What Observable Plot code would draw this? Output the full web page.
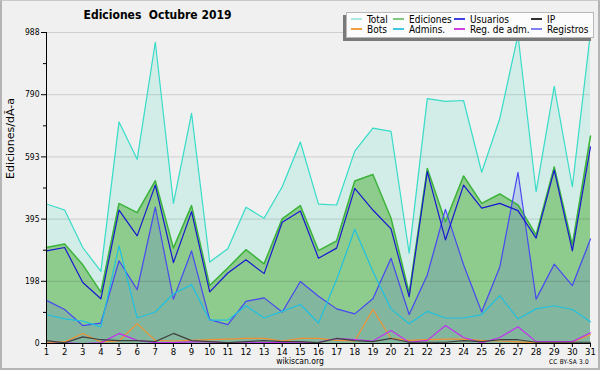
<!DOCTYPE html>
<html><head><meta charset="utf-8">
<script src="https://cdn.jsdelivr.net/npm/d3@7"></script>
<script src="https://cdn.jsdelivr.net/npm/@observablehq/plot@0.6"></script>
<style>
body{margin:0;background:#fff;}
#wrap{position:relative;width:600px;height:370px;background:#f0f0f0;overflow:hidden;font-family:"DejaVu Sans Condensed","DejaVu Sans",sans-serif;color:#000;}
#chart{position:absolute;left:0;top:0;}
#border{position:absolute;left:0;top:0;width:600px;height:370px;box-sizing:border-box;border:2px solid #b4b4b4;border-top:1px solid #c8c8c8;pointer-events:none;}
#title{position:absolute;left:0;width:315px;top:9px;text-align:center;font-weight:bold;font-size:12px;line-height:13px;white-space:pre;}
#legend{position:absolute;left:346px;top:12px;width:248px;height:26px;background:#fcfcfc;border:1px solid #b8b8b8;box-shadow:-3px 3px 0 #7a7a7a;box-sizing:border-box;}
.li{position:absolute;font-size:10px;line-height:10px;white-space:nowrap;}
.li span{display:inline-block;width:11px;height:1.5px;vertical-align:middle;margin-right:5px;position:relative;top:-1px;}
#foot{position:absolute;left:0;width:600px;top:356px;text-align:center;font-size:8.5px;line-height:10px;}
#cc{position:absolute;right:11px;top:357px;font-size:6.5px;line-height:10px;letter-spacing:0.2px;}
</style></head>
<body>
<div id="wrap">
  <div id="chart"></div>
  <div id="title">Ediciones  Octubre 2019</div>
  <div id="legend"></div>
  <div id="foot">wikiscan.org</div>
  <div id="cc">CC BY-SA 3.0</div>
  <div id="border"></div>
</div>
<script>
const days = d3.range(1, 32);
const total     = [443,424,305,229,704,585,957,445,731,259,301,433,398,498,640,443,440,611,684,674,287,778,769,772,544,715,980,482,817,498,988];
const ediciones = [305,316,250,163,445,416,517,303,438,184,240,298,253,396,438,295,326,516,537,398,160,556,387,532,445,475,440,345,561,313,659];
const usuarios  = [294,305,194,142,424,342,503,257,419,164,224,266,222,385,421,271,303,493,424,364,148,546,329,503,430,445,422,335,551,294,625];
const registros = [137,108,57,65,263,171,433,141,294,76,60,134,145,100,197,150,110,94,142,271,92,218,426,250,100,243,544,141,252,184,332];
const admins    = [92,78,71,53,310,81,100,158,187,74,74,120,81,102,124,65,203,363,229,110,63,102,81,81,92,152,78,110,120,108,69];
const bots      = [3,5,32,5,8,63,10,8,10,12,14,16,16,8,16,16,10,8,108,16,10,12,14,14,10,8,5,3,3,5,28];
const regAdm    = [0,2,0,2,32,10,3,3,5,5,2,2,3,3,2,4,16,12,8,41,4,10,57,19,2,19,53,6,6,6,34];
const ip        = [9,2,21,12,9,9,6,32,9,6,3,6,9,6,6,3,16,9,6,16,4,4,4,9,6,12,12,4,4,4,4];

const yLabel = "Ediciones/dÃ-a";
const legendNames  = ["Total","Ediciones","Usuarios","IP","Bots","Admins.","Reg. de adm.","Registros"];
const legendColors = ["#a8e8e0","#80c880","#4040e0","#303030","#f0a040","#40c8e0","#d040e0","#8080f0"];

const yMax = d3.max(total);
const yMajor = d3.range(6).map(i => i * yMax / 5);
const yMinor = d3.range(5).map(i => (i + 0.5) * yMax / 5);

const ln = (arr, color, w = 1.2) => Plot.lineY(arr, {x: days, y: arr, stroke: color, strokeWidth: w});

const chart = Plot.plot({
  width: 600, height: 370,
  marginLeft: 46, marginRight: 10, marginTop: 32, marginBottom: 27,
  style: {background: "transparent", fontFamily: "DejaVu Sans Condensed, DejaVu Sans", overflow: "visible", color: "#000"},
  x: {domain: [1, 31]},
  y: {domain: [0, yMax]},
  marks: [
    Plot.areaY(total, {x: days, y: total, fill: "#38d8b8", fillOpacity: 0.16}),
    Plot.areaY(ediciones, {x: days, y: ediciones, fill: "#8ecc8e"}),
    Plot.areaY(registros, {x: days, y: registros, fill: "#5050f0", fillOpacity: 0.17}),
    Plot.ruleY(yMajor.slice(1), {stroke: "#000", strokeOpacity: 0.14}),
    ln(total, "#38dcc8"),
    ln(ediciones, "#3cb43c", 1.5),
    ln(registros, "#4848f0"),
    ln(admins, "#20c0e0"),
    ln(usuarios, "#1818d0"),
    ln(bots, "#f09030"),
    ln(regAdm, "#c030f0"),
    ln(ip, "#404040"),
    Plot.axisY({ticks: yMajor, tickFormat: d => Math.round(d), tickSize: 5, tickPadding: 2, fontSize: 8.5, label: null}),
    Plot.axisY({ticks: yMinor, tickFormat: () => "", tickSize: 3, label: null}),
    Plot.axisX({ticks: days, tickFormat: d => d, tickSize: 4, tickPadding: 1, fontSize: 9.5, label: null}),
    Plot.ruleX([1], {stroke: "#000"}),
    Plot.ruleY([0], {stroke: "#000"}),
    Plot.text([yLabel], {frameAnchor: "left", rotate: -90, dx: -36, dy: -9, fontSize: 11, fontFamily: "DejaVu Sans", fill: "#000"})
  ]
});
document.getElementById("chart").appendChild(chart);

const leg = document.getElementById("legend");
const colX = [4, 46, 107, 184];
const rowY = [2, 12];
legendNames.forEach((n, i) => {
  const d = document.createElement("div");
  d.className = "li";
  d.style.left = colX[i % 4] + "px";
  d.style.top = rowY[Math.floor(i / 4)] + "px";
  const s = document.createElement("span");
  s.style.background = legendColors[i];
  d.appendChild(s);
  d.appendChild(document.createTextNode(n));
  leg.appendChild(d);
});
</script>
</body></html>
